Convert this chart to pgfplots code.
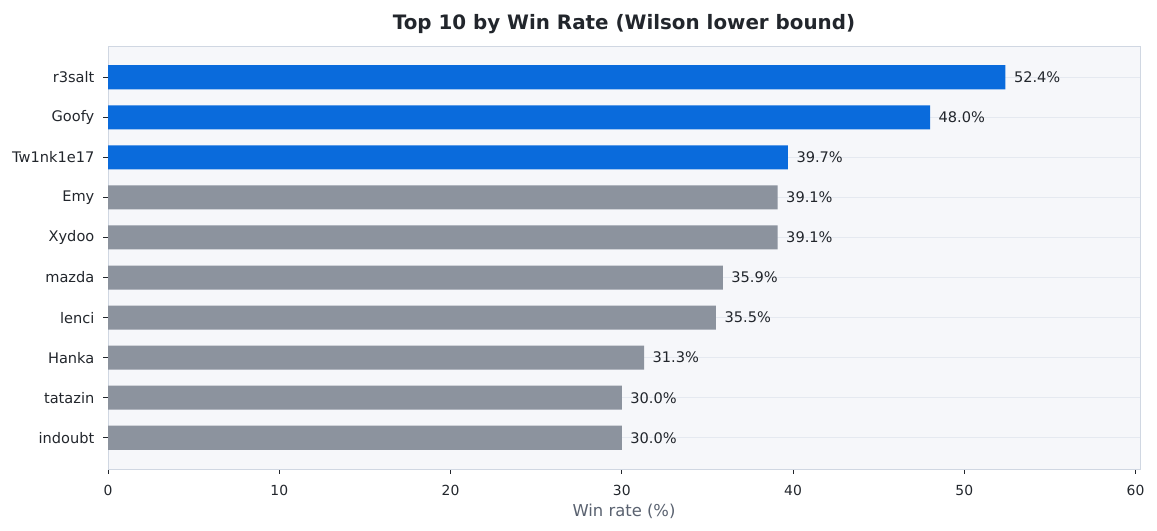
\documentclass[border=0pt]{standalone}
\usepackage{pgfplots}
\pgfplotsset{compat=1.18}
\usepackage{fontspec}
\setmainfont{DejaVu Sans}
\definecolor{barblue}{RGB}{10,107,220}
\definecolor{bargray}{RGB}{140,147,158}
\definecolor{axbg}{RGB}{246,247,250}
\definecolor{spine}{RGB}{208,215,226}
\definecolor{gridc}{RGB}{229,233,240}
\definecolor{txt}{RGB}{34,38,44}
\definecolor{lbl}{RGB}{90,98,112}
\begin{document}
\begin{tikzpicture}
\path[use as bounding box] (0,0) rectangle (833.04pt,382.32pt);
\begin{axis}[
  at={(77.76pt,44.64pt)}, anchor=south west,
  scale only axis, width=743.04pt, height=304.56pt,
  xbar, bar width=0.6,
  xmin=0, xmax=60.26, ymin=-0.78, ymax=9.78,
  xtick={0,10,...,60},
  ytick={0,...,9},
  yticklabels={indoubt,tatazin,Hanka,lenci,mazda,Xydoo,Emy,Tw1nk1e17,Goofy,r3salt},
  tick align=outside, tick pos=left,
  major tick length=3.5pt,
  every tick/.style={txt, line width=0.6pt},
  axis line style={spine, line width=0.6pt},
  axis background/.style={fill=axbg},
  ymajorgrids, grid style={gridc, line width=0.7pt},
  /pgf/number format/assume math mode=true,
  ticklabel style={font=\fontsize{10}{12}\selectfont, text=txt},
  xticklabel style={yshift=-4.5pt},
  yticklabel style={font=\fontsize{10.5}{12}\selectfont, xshift=-2.8pt},
  xlabel={Win rate (\%)},
  xlabel style={font=\fontsize{11.8}{13}\selectfont, text=lbl, at={(axis description cs:0.5,0)}, anchor=center, yshift=-30.2pt},
  title={Top 10 by Win Rate (Wilson lower bound)},
  title style={font=\bfseries\fontsize{14.3}{16}\selectfont, text=txt, at={(axis description cs:0.5,1)}, anchor=center, yshift=10.1pt},
  nodes near coords={\pgfmathprintnumber[fixed,fixed zerofill,precision=1]{\pgfplotspointmeta}\%},
  nodes near coords style={font=\fontsize{10.5}{12}\selectfont, text=txt, anchor=west, inner sep=0pt, xshift=6pt},
  point meta=x,
]
\addplot[fill=bargray, draw=none, bar shift=0pt] coordinates {
(30.0,0) (30.0,1) (31.3,2) (35.5,3) (35.9,4) (39.1,5) (39.1,6)
};
\addplot[fill=barblue, draw=none, bar shift=0pt] coordinates {
(39.7,7) (48.0,8) (52.4,9)
};
\end{axis}
\end{tikzpicture}
\end{document}
